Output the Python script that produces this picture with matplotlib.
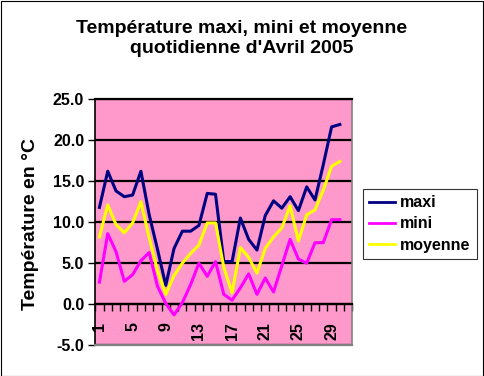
import matplotlib
matplotlib.use("Agg")
import matplotlib.pyplot as plt
from matplotlib.patches import Rectangle
from matplotlib.ticker import FixedLocator, FuncFormatter

plt.rcParams['font.family'] = ['Liberation Sans', 'DejaVu Sans']

days = list(range(1, 31))
maxi = [11.8, 16.2, 13.8, 13.1, 13.3, 16.2, 10.9, 6.7, 2.3, 6.8,
        8.9, 8.9, 9.6, 13.5, 13.4, 5.2, 5.2, 10.5, 7.9, 6.6,
        10.8, 12.6, 11.7, 13.1, 11.4, 14.3, 12.7, 17.0, 21.6, 21.9]
mini = [2.7, 8.6, 6.4, 2.8, 3.6, 5.3, 6.3, 2.2, 0.1, -1.3,
        0.2, 2.4, 5.0, 3.4, 5.2, 1.2, 0.5, 2.0, 3.7, 1.2,
        3.2, 1.5, 4.7, 7.9, 5.5, 5.0, 7.5, 7.5, 10.3, 10.3]
moyenne = [8.2, 12.1, 9.7, 8.7, 9.9, 12.5, 8.1, 4.1, 1.2, 3.5,
           5.0, 6.2, 7.2, 9.9, 9.9, 4.5, 1.4, 6.9, 5.7, 3.8,
           6.8, 8.2, 9.3, 12.0, 7.7, 10.9, 11.5, 13.9, 16.8, 17.4]
xtick_labels = [1, 5, 9, 13, 17, 21, 25, 29]
yticks = [-5, 0, 5, 10, 15, 20, 25]

title = "Température maxi, mini et moyenne\nquotidienne d'Avril 2005"
ylabel = "Température en °C"

W, H = 484, 376
fig = plt.figure(figsize=(W / 100, H / 100), dpi=100)
fig.patch.set_facecolor('white')
fig.add_artist(Rectangle((0.5 / W, 0.5 / H), 1 - 1.5 / W, 1 - 1.5 / H,
                         transform=fig.transFigure, fill=False,
                         edgecolor='black', linewidth=0.8))

left, right, top, bottom = 95.3, 352.3, 99.0, 345.3
ax = fig.add_axes([left / W, 1 - bottom / H, (right - left) / W, (bottom - top) / H])
ax.set_facecolor('#FF99CC')

lw = 2.2
ax.plot(days, maxi, color='#000080', lw=lw, label='maxi', zorder=3)
ax.plot(days, mini, color='#FF00FF', lw=lw, label='mini', zorder=3)
ax.plot(days, moyenne, color='#FFFF00', lw=lw, label='moyenne', zorder=3)

ax.set_xlim(0.5, 31.5)
ax.set_ylim(-5, 25)

# y axis
ax.set_yticks(yticks)
ax.yaxis.set_major_formatter(FuncFormatter(lambda v, p: f"{v:.1f}"))
ax.tick_params(axis='y', direction='out', length=5, width=1, color='black',
               labelsize=11.5, pad=3)
for t in ax.get_yticklabels():
    t.set_fontweight('bold')
ax.grid(axis='y', color='black', linewidth=1.6)
ax.set_axisbelow(True)

# category axis at y = 0
ax.spines['bottom'].set_position(('data', 0))
ax.spines['bottom'].set_color('black')
ax.spines['bottom'].set_linewidth(1.6)
ax.xaxis.set_major_locator(FixedLocator(xtick_labels))
ax.xaxis.set_minor_locator(FixedLocator([k + 0.5 for k in range(0, 32)]))
ax.set_xticklabels([str(v) for v in xtick_labels], rotation=90,
                   fontweight='bold', fontsize=11.5)
ax.tick_params(axis='x', which='major', length=0, pad=13)
ax.tick_params(axis='x', which='minor', direction='out', length=5, width=1, color='black')
for t in ax.get_xticklabels():
    t.set_va('top')

ax.spines['left'].set_color('black')
ax.spines['left'].set_linewidth(1.2)
ax.spines['top'].set_color('black')
ax.spines['top'].set_linewidth(1.6)
ax.spines['right'].set_color('#808080')
ax.spines['right'].set_linewidth(1.2)
ax.axhline(-5, color='#808080', linewidth=1.6, zorder=4, clip_on=False)

fig.text(242 / W, 1 - 38.5 / H, title, ha='center', va='center',
         fontsize=14, fontweight='bold', linespacing=1.2)
fig.text(31 / W, 1 - 224 / H, ylabel, ha='center', va='center',
         rotation=90, fontsize=14, fontweight='bold')

leg = ax.legend(loc='center left', bbox_to_anchor=(363 / W, 1 - 224 / H),
                bbox_transform=fig.transFigure, frameon=True, fancybox=False,
                prop={'weight': 'bold', 'size': 11.5}, handlelength=1.6,
                handletextpad=0.3, labelspacing=0.4, borderpad=0.4,
                borderaxespad=0)
leg.get_frame().set_edgecolor('black')
leg.get_frame().set_linewidth(0.8)
for l in leg.get_lines():
    l.set_linewidth(2.0)

fig.savefig('out.png', dpi=100)
